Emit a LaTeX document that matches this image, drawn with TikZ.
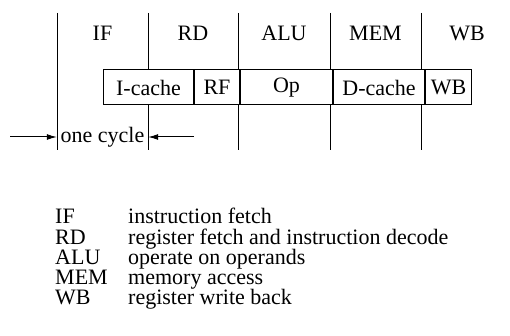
\documentclass[tikz,border=0pt]{standalone}
\usepackage{fontspec}
\setmainfont{Liberation Serif}
\usepackage{tikz}
\usetikzlibrary{positioning}
\usetikzlibrary{arrows.meta}

\begin{document}
\begin{tikzpicture}[
x=1pt, y=-1pt,
every node/.style={font=\fontsize{22}{24}\selectfont, inner sep=0pt},
stagenode/.style={anchor=base},
cellnode/.style={rectangle, draw=black, fill=white, line width=1pt, minimum height=35pt, anchor=west},
legnode/.style={anchor=base west},
]
\useasboundingbox (0,0) rectangle (510,336);

%Stage borders
\foreach \x [count=\i] in {57,148,238,330,421}{
  \coordinate (t\i) at (\x,13);
  \coordinate (b\i) at (\x,150);
  \draw[line width=1pt] (t\i) -- (b\i);
}

%Stage names
\node[stagenode] (sif)  at (102.5,41) {IF};
\node[stagenode] (srd)  at (193,41)   {RD};
\node[stagenode] (salu) at (284,41)   {ALU};
\node[stagenode] (smem) at (375.5,41) {MEM};
\node[stagenode] (swb)  at (467,41)   {WB};

%Pipeline cells
\node[cellnode, minimum width=90pt] (ic)               at (103,87.5) {I-cache};
\node[cellnode, minimum width=45pt] (rf)  [right=0pt of ic] {RF};
\node[cellnode, minimum width=92pt] (op)  [right=0pt of rf] {Op};
\node[cellnode, minimum width=91pt] (dc)  [right=0pt of op] {D-cache};
\node[cellnode, minimum width=46pt] (wb)  [right=0pt of dc] {WB};

%Cycle
\node[minimum width=91pt] (cyc) at (102.5,137) {one cycle};
\coordinate (la) at (10,137);
\coordinate (ra) at (194,137);
\draw[line width=1pt, -{Latex[length=10pt,width=6pt]}] (la) -- (cyc.west);
\draw[line width=1pt, -{Latex[length=10pt,width=6pt]}] (ra) -- (cyc.east);

%Legend
\foreach \ab/\txt [count=\i] in {IF/instruction fetch, RD/register fetch and instruction decode, ALU/operate on operands, MEM/memory access, WB/register write back}{
  \node[legnode] (ab\i) at (55,{217+20*(\i-1)+7}) {\ab};
  \node[legnode] (ds\i) at (128,{217+20*(\i-1)+7}) {\txt};
}
\end{tikzpicture}
\end{document}
